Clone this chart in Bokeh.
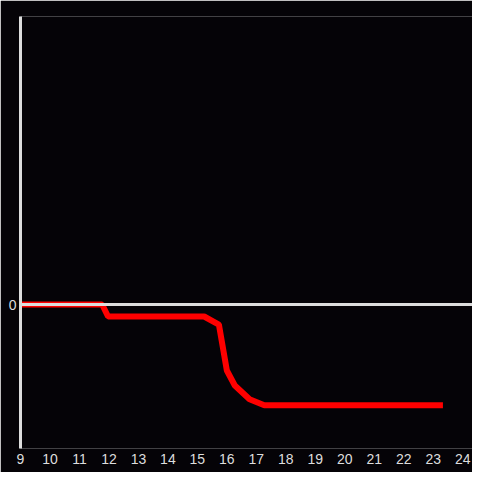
from bokeh.plotting import figure
from bokeh.models import Range1d, FixedTicker, Span
from bokeh.embed import file_html
from bokeh.resources import INLINE

# data
hours = [9, 11.77, 11.97, 15.23, 15.73, 16.0, 16.27, 16.77, 17.27, 23.33]
values = [0, 0, -1.0, -1.0, -1.67, -5.5, -6.75, -7.9, -8.4, -8.4]
x_ticks = list(range(9, 25))
y_ticks = [0]

BG = "#050307"
FG = "#dddddd"

p = figure(width=472, height=472, output_backend="svg", toolbar_location=None,
           x_range=Range1d(9, 24.333), y_range=Range1d(-12, 24),
           min_border_left=20, min_border_right=0, min_border_top=16, min_border_bottom=24)
p.background_fill_color = BG
p.border_fill_color = BG
p.outline_line_color = None
p.grid.visible = False

p.add_layout(Span(location=0, dimension="width", line_color=FG, line_width=3))

p.line(hours, values, line_color="#ff0000", line_width=6)

xa = p.xaxis[0]
xa.ticker = FixedTicker(ticks=x_ticks)
xa.axis_line_color = None
xa.major_tick_line_color = None
xa.minor_tick_line_color = None
xa.major_tick_out = 0
xa.major_label_standoff = 5
xa.major_label_text_color = FG
xa.major_label_text_font = "Liberation Sans"
xa.major_label_text_font_size = "14px"

ya = p.yaxis[0]
ya.ticker = FixedTicker(ticks=y_ticks)
ya.axis_line_color = FG
ya.axis_line_width = 3
ya.major_tick_line_color = None
ya.minor_tick_line_color = None
ya.major_tick_out = 0
ya.major_label_standoff = 4
ya.major_label_text_color = FG
ya.major_label_text_font = "Liberation Sans"
ya.major_label_text_font_size = "14px"

open("out.html", "w").write(file_html(p, INLINE))
